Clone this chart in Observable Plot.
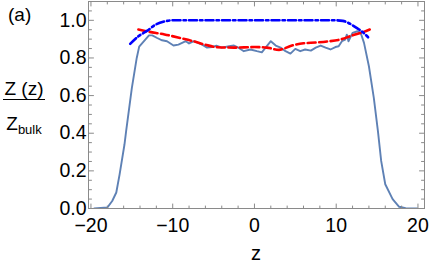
<!DOCTYPE html>
<html>
<head>
<meta charset="utf-8">
<script src="https://cdn.jsdelivr.net/npm/d3@7"></script>
<script src="https://cdn.jsdelivr.net/npm/@observablehq/plot@0.6"></script>
<style>
  html, body { margin: 0; padding: 0; background: #fff; }
  #chart { width: 429px; height: 265px; }
</style>
</head>
<body>
<div id="chart"></div>
<script>
// Simulation profile Z(z)/Z_bulk (solid)
const solidZ = [-19.6,-18.0,-17.4,-16.9,-16.5,-15.9,-15.7,-15.0,-14.4,-14.1,-12.9,-12.5,-11.9,-11.3,-10.7,-9.9,-9.3,-8.4,-8.0,-7.4,-6.4,-5.8,-5.2,-4.65,-4.0,-3.1,-2.5,-2.1,-1.3,-0.5,0.3,0.9,2.0,2.6,3.2,3.8,4.4,5.0,5.6,6.2,6.9,7.5,8.1,8.7,9.3,9.9,10.3,10.7,11.1,11.3,11.5,12.0,12.6,13.0,13.4,14.0,14.6,15.1,15.5,16.0,16.9,17.7,18.5,19.9];
const solidV = [0,0.005,0.04,0.085,0.18,0.34,0.41,0.64,0.80,0.86,0.92,0.92,0.906,0.894,0.889,0.866,0.871,0.889,0.877,0.889,0.871,0.855,0.858,0.865,0.855,0.862,0.866,0.858,0.836,0.845,0.836,0.830,0.889,0.866,0.855,0.836,0.823,0.848,0.836,0.845,0.839,0.855,0.866,0.855,0.845,0.858,0.862,0.889,0.897,0.924,0.889,0.933,0.942,0.933,0.88,0.756,0.588,0.412,0.253,0.129,0.05,0.009,0.002,0];
// Theory (red dashed)
const redZ = [-14.2,-13.0,-11.0,-9.0,-7.5,-6.0,-4.5,-2.5,0,1.5,3.0,4.5,6.0,7.5,9.0,10.5,12.0,13.0,14.1];
const redV = [0.951,0.940,0.925,0.905,0.889,0.870,0.857,0.855,0.858,0.855,0.843,0.865,0.878,0.882,0.888,0.898,0.920,0.933,0.951];
// Theory (blue dot-dashed)
const blueZ = [-15.2,-14.2,-13.1,-12.1,-11.0,-10.0,-5,0,5,10.0,10.8,11.5,12.2,12.8,13.3,13.9];
const blueV = [0.875,0.915,0.945,0.977,0.994,1.0,1.0,1.0,1.0,1.0,0.997,0.986,0.968,0.951,0.935,0.91];

const xMajor = [-20,-10,0,10,20];
const xMinor = [-18,-16,-14,-12,-8,-6,-4,-2,2,4,6,8,12,14,16,18];
const yMajor = [0,0.2,0.4,0.6,0.8,1.0];
const yMinor = [0.05,0.1,0.15,0.25,0.3,0.35,0.45,0.5,0.55,0.65,0.7,0.75,0.85,0.9,0.95,1.05];

const solid = solidZ.map((z,i)=>({z, v: solidV[i]}));
const red = redZ.map((z,i)=>({z, v: redV[i]}));
const blue = blueZ.map((z,i)=>({z, v: blueV[i]}));

const tickShape = { draw(context, l) { context.moveTo(0, 0); context.lineTo(0, -l); } };
const frameColor = "#8a8a8a";
const FONT = "'Liberation Sans', Arial, sans-serif";

function ticks(data, anchor, key, len) {
  const rot = {bottom: 0, top: 180, left: 90, right: -90}[anchor];
  const o = {frameAnchor: anchor, length: len, anchor: "start", rotate: rot, shape: tickShape, stroke: frameColor, strokeWidth: 1};
  o[key] = d => d;
  return Plot.vector(data, o);
}

const plot = Plot.plot({
  width: 429,
  height: 265,
  marginLeft: 88,
  marginRight: 5,
  marginTop: 1,
  marginBottom: 57,
  style: {fontFamily: FONT, background: "#fff", overflow: "visible"},
  x: {domain: [-20.3, 20.8]},
  y: {domain: [0, 1.1]},
  marks: [
    Plot.line(solid, {x: "z", y: "v", stroke: "#5E81B5", strokeWidth: 1.9, clip: true}),
    Plot.line(red, {x: "z", y: "v", stroke: "#FF0000", strokeWidth: 2.6, strokeDasharray: "8,3.5", curve: "monotone-x"}),
    Plot.line(blue, {x: "z", y: "v", stroke: "#0000FF", strokeWidth: 2.6, strokeDasharray: "8,3,2.5,3", curve: "monotone-x"}),
    Plot.frame({stroke: frameColor, strokeWidth: 1}),
    ticks(xMajor, "bottom", "x", 4.5), ticks(xMinor, "bottom", "x", 2.5),
    ticks(xMajor, "top", "x", 4.5), ticks(xMinor, "top", "x", 2.5),
    ticks(yMajor, "left", "y", 5), ticks(yMinor, "left", "y", 3),
    ticks(yMajor, "right", "y", 5), ticks(yMinor, "right", "y", 3),
    Plot.axisX(xMajor, {tickSize: 0, tickPadding: 10, fontSize: 19.5, label: null, fill: "#000"}),
    Plot.axisY(yMajor, {tickSize: 0, tickPadding: 2, fontSize: 19.5, label: null, fill: "#000", tickFormat: d3.format(".1f")})
  ]
});

document.getElementById("chart").appendChild(plot);

const svg = d3.select(plot);
const g = svg.append("g").attr("font-family", FONT).attr("fill", "#000");
g.append("text").attr("x", 8).attr("y", 21).attr("font-size", 19).attr("text-anchor", "start").text("(a)");
g.append("text").attr("x", 24).attr("y", 95).attr("font-size", 19).attr("text-anchor", "middle").text("Z (z)");
g.append("line").attr("x1", 3).attr("x2", 45).attr("y1", 99.5).attr("y2", 99.5).attr("stroke", "#000").attr("stroke-width", 1);
const den = g.append("text").attr("x", 24).attr("y", 130).attr("font-size", 19).attr("text-anchor", "middle");
den.append("tspan").text("Z");
den.append("tspan").attr("font-size", 13).attr("dy", 4).text("bulk");
g.append("text").attr("x", 256).attr("y", 260).attr("font-size", 20).attr("text-anchor", "middle").text("z");
</script>
</body>
</html>
